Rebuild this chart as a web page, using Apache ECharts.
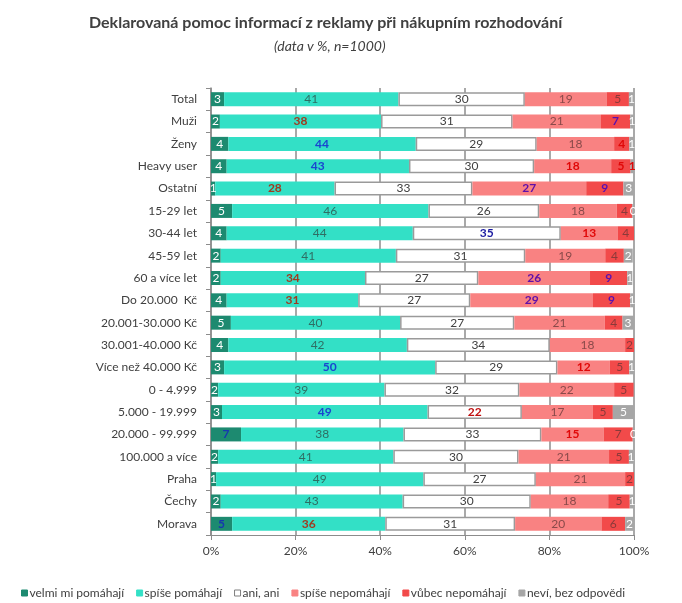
<!DOCTYPE html>
<html><head><meta charset="utf-8">
<script src="https://cdn.jsdelivr.net/npm/echarts@6/dist/echarts.min.js"></script>
<style>html,body{margin:0;padding:0;background:#fff}#c{width:682px;height:603px}</style>
</head><body><div id="c"></div>
<script>
const categories = ["Total","Muži","Ženy","Heavy user","Ostatní","15-29 let","30-44 let","45-59 let","60 a více let","Do 20.000  Kč","20.001-30.000 Kč","30.001-40.000 Kč","Více než 40.000 Kč","0 - 4.999","5.000 - 19.999","20.000 - 99.999","100.000 a více","Praha","Čechy","Morava"];
const seriesNames = ["velmi mi pomáhají","spíše pomáhají","ani, ani","spíše nepomáhají","vůbec nepomáhají","neví, bez odpovědi"];
const tickValues = [0,20,40,60,80,100];
const velmi   = [3.1,2.1,4.1,3.7,1.0,5.0,3.7,2.3,2.3,3.7,4.7,4.1,3.1,1.7,2.6,7.1,1.7,1.2,2.3,5.0];
const spise   = [41.2,38.1,44.3,43.1,28.2,46.4,44.0,41.4,34.1,31.1,40.0,42.2,49.9,39.3,48.6,38.4,41.4,49.0,43.0,36.2];
const ani     = [29.9,31.1,28.6,29.6,32.6,26.2,35.0,30.6,26.8,26.5,27.0,33.8,28.9,31.9,22.3,32.6,29.6,26.6,30.3,30.7];
const spiseNe = [19.3,20.9,18.3,18.2,26.9,18.3,13.4,18.9,26.4,29.0,21.4,17.8,12.4,22.4,16.8,14.7,21.4,21.1,18.3,20.4];
const vubec   = [5.3,6.9,3.6,4.6,8.8,3.7,3.9,4.4,8.8,8.8,4.2,2.1,4.6,4.6,4.7,6.9,4.7,2.1,5.1,5.6];
const nevi    = [1.2,0.95,1.2,1.0,2.6,0.4,0,2.1,1.2,0.9,2.6,0,1.0,0,5.0,0.4,1.0,0,1.0,2.1];
// significance flags: h = significantly higher, l = significantly lower
const flagVelmi   = ["","","","","","","","","","","","","","","","h","","","","h"];
const flagSpise   = ["","l","h","h","l","","","","l","l","","","h","","h","","","","","l"];
const flagAni     = ["","","","","","","h","","","","","","","","l","","","","",""];
const flagSpiseNe = ["","","","l","h","","l","","h","h","","","l","","","l","","","",""];
const flagVubec   = ["","h","l","l","h","","","","h","h","","","","","","","","","",""];
const flagNevi    = ["","","","l","","","","","","","","","","","","","","","",""];

const allVals = [velmi,spise,ani,spiseNe,vubec,nevi];
const allFlags = [flagVelmi,flagSpise,flagAni,flagSpiseNe,flagVubec,flagNevi];
const colors = ["#1d8a70","#33e0c6","#ffffff","#f98282","#f24a4a","#a6a6a6"];
const normalText = ["#ffffff","#2f6e64","#404040","#8a4a4a","#8a3a3a","#ffffff"];
const highText = ["#1636b0","#1a45d0","#1a1aa0","#6010a8","#5a10b0","#5a10b0"];
const lowText  = ["#a03a20","#a03a20","#c01010","#e00808","#e00808","#e00808"];

const cats = categories.slice().reverse();
const series = allVals.map((vals, si) => {
  const data = vals.map((v, i) => {
    const f = allFlags[si][i];
    return {
      value: v,
      label: {
        show: v !== 0,
        color: f === 'h' ? highText[si] : f === 'l' ? lowText[si] : normalText[si],
        fontWeight: f ? 'bold' : 'normal'
      }
    };
  }).reverse();
  return {
    name: seriesNames[si],
    type: 'bar',
    stack: 'a',
    barWidth: 14,
    data: data,
    itemStyle: { color: colors[si], borderColor: si === 2 ? '#9a9a9a' : colors[si], borderWidth: si === 2 ? 1.5 : 0 },
    label: { show: true, position: 'inside', fontSize: 12, fontFamily: 'Lato', formatter: p => String(Math.round(p.value)) },
    emphasis: { disabled: true },
    clip: true
  };
});

const chart = echarts.init(document.getElementById('c'));
chart.setOption({
  animation: false,
  backgroundColor: '#fff',
  title: [{
    text: 'Deklarovaná pomoc informací z reklamy při nákupním rozhodování',
    left: 84, top: 10,
    textStyle: { fontFamily: 'Lato', fontWeight: 'bold', fontSize: 16, color: '#404040' }
  }, {
    text: '(data v %, n=1000)',
    left: 269, top: 34,
    textStyle: { fontFamily: 'Lato', fontStyle: 'italic', fontWeight: 'normal', fontSize: 14, color: '#404040' }
  }],
  grid: { left: 211, right: 48, top: 88, bottom: 68, containLabel: false },
  xAxis: {
    type: 'value', min: tickValues[0], max: tickValues[tickValues.length - 1], interval: 20,
    axisLabel: { formatter: '{value}%', color: '#404040', fontFamily: 'Lato', fontSize: 12, margin: 10 },
    axisLine: { show: true, lineStyle: { color: '#8c8c8c' } },
    axisTick: { show: true, length: 5, lineStyle: { color: '#8c8c8c' } },
    splitLine: { show: true, lineStyle: { color: '#8c8c8c', width: 1.5 } }
  },
  yAxis: {
    type: 'category', data: cats,
    axisLabel: { color: '#404040', fontFamily: 'Lato', fontSize: 12, margin: 14 },
    axisLine: { show: true, lineStyle: { color: '#8c8c8c', width: 1.5 } },
    axisTick: { show: true, length: 5, lineStyle: { color: '#8c8c8c' } }
  },
  legend: {
    bottom: -1, left: 16, itemWidth: 6, itemHeight: 6, itemGap: 12, icon: 'rect',
    textStyle: { fontFamily: 'Lato', fontSize: 12, color: '#404040', padding: [0,0,0,-3] },
    data: seriesNames.map((n, i) => ({ name: n, itemStyle: { color: colors[i], borderColor: i === 2 ? '#7f7f7f' : colors[i], borderWidth: 1 } }))
  },
  series: series
});
</script></body></html>
